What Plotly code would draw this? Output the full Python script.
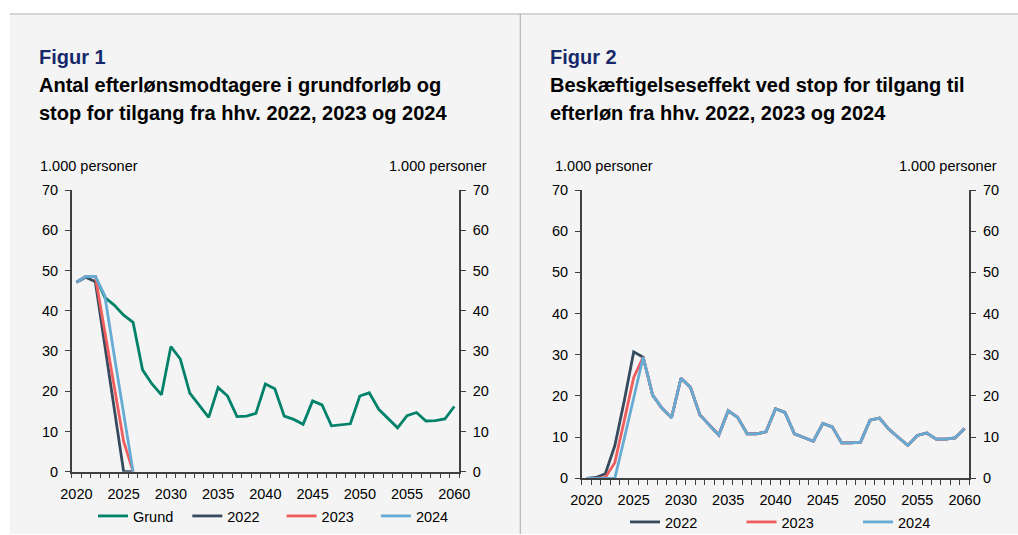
import plotly.graph_objects as go

# body margin is removed in post_script, so the figure fills the page
OFF = 0
W, H = 1018 - OFF, 535 - OFF

years = list(range(2020, 2061))
tick_years = [2020, 2025, 2030, 2035, 2040, 2045, 2050, 2055, 2060]
y_ticks = [0, 10, 20, 30, 40, 50, 60, 70]

# Figur 1: antal efterlønsmodtagere (1.000 personer)
grund = [47.1, 48.5, 48.5, 43.3, 41.4, 38.9, 37.1, 25.3, 21.8, 19.1,
         31.1, 28.0, 19.5, 16.6, 13.5, 20.9, 18.8, 13.7, 13.8, 14.5,
         21.8, 20.6, 13.8, 13.0, 11.8, 17.6, 16.6, 11.4, 11.6, 11.9,
         18.8, 19.6, 15.5, 13.1, 10.9, 13.9, 14.7, 12.6, 12.7, 13.1,
         16.2]
stop_years = [2020, 2021, 2022, 2023, 2024, 2025, 2026]
stop2022 = [47.1, 48.3, 47.2, 31.5, 15.5, 0.0, 0.0]
stop2023 = [47.1, 48.5, 48.5, 34.8, 21.1, 7.5, 0.0]
stop2024 = [47.1, 48.5, 48.5, 43.8, 28.9, 14.5, 0.0]

# Figur 2: beskæftigelseseffekt (1.000 personer)
eff2022 = [0.0, 0.2, 1.1, 7.9, 18.8, 30.7, 29.4, 20.2, 17.0, 14.7,
           24.3, 22.1, 15.4, 12.9, 10.5, 16.4, 14.8, 10.8, 10.8, 11.3,
           16.9, 16.0, 10.8, 9.9, 9.0, 13.3, 12.5, 8.6, 8.6, 8.8,
           14.1, 14.6, 11.9, 9.9, 8.0, 10.4, 11.0, 9.5, 9.5, 9.8,
           12.1]
eff2023 = [0.0, 0.0, 0.2, 3.8, 14.0, 24.5, 29.4, 20.2, 17.0, 14.7,
           24.3, 22.1, 15.4, 12.9, 10.5, 16.4, 14.8, 10.8, 10.8, 11.3,
           16.9, 16.0, 10.8, 9.9, 9.0, 13.3, 12.5, 8.6, 8.6, 8.8,
           14.1, 14.6, 11.9, 9.9, 8.0, 10.4, 11.0, 9.5, 9.5, 9.8,
           12.1]
eff2024 = [0.0, 0.0, 0.0, 0.0, 9.6, 19.2, 29.4, 20.2, 17.0, 14.7,
           24.3, 22.1, 15.4, 12.9, 10.5, 16.4, 14.8, 10.8, 10.8, 11.3,
           16.9, 16.0, 10.8, 9.9, 9.0, 13.3, 12.5, 8.6, 8.6, 8.8,
           14.1, 14.6, 11.9, 9.9, 8.0, 10.4, 11.0, 9.5, 9.5, 9.8,
           12.1]

C_GRUND = "#00826a"
C_2022 = "#364a5e"
C_2023 = "#f05d5e"
C_2024 = "#66abd4"
NAVY = "#17296b"
FONT = "Liberation Sans, Arial, sans-serif"
AX = "#3f3f3f"
LW = 2.8
SMALL = 14.5
TITLE = 20


def fx(px):
    return (px - OFF) / W


def fy(py):
    return 1 - (py - OFF) / H


fig = go.Figure()

# ---- Figur 1 traces
fig.add_trace(go.Scatter(x=years, y=grund, name="Grund", mode="lines",
                         line=dict(color=C_GRUND, width=LW), xaxis="x", yaxis="y",
                         legend="legend"))
fig.add_trace(go.Scatter(x=stop_years, y=stop2022, name="2022", mode="lines",
                         line=dict(color=C_2022, width=LW), xaxis="x", yaxis="y",
                         legend="legend"))
fig.add_trace(go.Scatter(x=stop_years, y=stop2023, name="2023", mode="lines",
                         line=dict(color=C_2023, width=LW), xaxis="x", yaxis="y",
                         legend="legend"))
fig.add_trace(go.Scatter(x=stop_years, y=stop2024, name="2024", mode="lines",
                         line=dict(color=C_2024, width=LW), xaxis="x", yaxis="y",
                         legend="legend"))
# right axis holder (invisible)
fig.add_trace(go.Scatter(x=years, y=grund, mode="lines", line=dict(width=0),
                         opacity=0, showlegend=False, hoverinfo="skip",
                         xaxis="x", yaxis="y2"))

# ---- Figur 2 traces
fig.add_trace(go.Scatter(x=years, y=eff2022, name="2022", mode="lines",
                         line=dict(color=C_2022, width=LW), xaxis="x2", yaxis="y3",
                         legend="legend2"))
fig.add_trace(go.Scatter(x=years, y=eff2023, name="2023", mode="lines",
                         line=dict(color=C_2023, width=LW), xaxis="x2", yaxis="y3",
                         legend="legend2"))
fig.add_trace(go.Scatter(x=years, y=eff2024, name="2024", mode="lines",
                         line=dict(color=C_2024, width=LW), xaxis="x2", yaxis="y3",
                         legend="legend2"))
fig.add_trace(go.Scatter(x=years, y=eff2024, mode="lines", line=dict(width=0),
                         opacity=0, showlegend=False, hoverinfo="skip",
                         xaxis="x2", yaxis="y4"))

tickfont = dict(family=FONT, size=SMALL, color="#000000")

xcommon = dict(range=[2019.5, 2060.5], tickvals=tick_years, ticks="outside",
               ticklen=8, tickcolor="rgba(0,0,0,0)", showline=True,
               linecolor=AX, linewidth=1.5, showgrid=False, zeroline=False,
               tickfont=tickfont,
               minor=dict(tickvals=[2019.5 + k for k in range(42)],
                          ticks="outside", ticklen=5, tickcolor=AX,
                          tickwidth=1.2, showgrid=False))
ycommon = dict(range=[0, 70], tickvals=y_ticks, ticks="outside", ticklen=5,
               tickcolor=AX, tickwidth=1.2, showline=True, linecolor=AX,
               linewidth=1.5, showgrid=False, zeroline=False,
               tickfont=tickfont, ticklabelstandoff=4)

f1x0, f1x1 = 71.7, 459.0
f1y0, f1y1 = 471.7, 190.0
f2x0, f2x1 = 581.7, 969.3
f2y0, f2y1 = 478.3, 190.0

fig.update_layout(
    width=W, height=H,
    margin=dict(l=0, r=0, t=0, b=0, pad=0, autoexpand=False),
    paper_bgcolor="#ffffff",
    plot_bgcolor="rgba(0,0,0,0)",
    font=dict(family=FONT, size=SMALL, color="#000000"),
    xaxis=dict(domain=[fx(f1x0), fx(f1x1)], anchor="y", **xcommon),
    yaxis=dict(domain=[fy(f1y0), fy(f1y1)], anchor="x", side="left", **ycommon),
    yaxis2=dict(domain=[fy(f1y0), fy(f1y1)], anchor="x", overlaying="y",
                side="right", **ycommon),
    xaxis2=dict(domain=[fx(f2x0), fx(f2x1)], anchor="y3", **xcommon),
    yaxis3=dict(domain=[fy(f2y0), fy(f2y1)], anchor="x2", side="left", **ycommon),
    yaxis4=dict(domain=[fy(f2y0), fy(f2y1)], anchor="x2", overlaying="y3",
                side="right", **ycommon),
    legend=dict(orientation="h", x=fx(93), y=fy(516), xanchor="left",
                yanchor="middle", entrywidth=49.3, entrywidthmode="pixels",
                bgcolor="rgba(0,0,0,0)", font=dict(family=FONT, size=SMALL),
                itemwidth=30, tracegroupgap=0),
    legend2=dict(orientation="h", x=fx(625), y=fy(522), xanchor="left",
                 yanchor="middle", entrywidth=71.5, entrywidthmode="pixels",
                 bgcolor="rgba(0,0,0,0)", font=dict(family=FONT, size=SMALL),
                 itemwidth=30),
    showlegend=True,
)

shapes = [
    dict(type="rect", xref="paper", yref="paper", x0=fx(10), x1=1, y0=fy(534),
         y1=fy(15), fillcolor="#f4f4f4", line=dict(width=0), layer="below"),
    dict(type="line", xref="paper", yref="paper", x0=fx(10), x1=1, y0=fy(14),
         y1=fy(14), line=dict(color="#aaaaaa", width=1.2), layer="below"),
    dict(type="line", xref="paper", yref="paper", x0=fx(520.3), x1=fx(520.3),
         y0=fy(534), y1=fy(14), line=dict(color="#b4b4b4", width=1.2),
         layer="below"),
]
fig.update_layout(shapes=shapes)

ann = []


def text(x, y, s, size=SMALL, color="#000000", bold=False, xanchor="left"):
    ann.append(dict(xref="paper", yref="paper", x=fx(x), y=fy(y), text=s,
                    showarrow=False, xanchor=xanchor, yanchor="middle",
                    font=dict(family=FONT, size=size, color=color,
                              weight="bold" if bold else "normal")))


text(37, 57, "Figur 1", TITLE, NAVY, True)
text(37, 85, "Antal efterlønsmodtagere i grundforløb og", TITLE, "#000000", True)
text(37, 113, "stop for tilgang fra hhv. 2022, 2023 og 2024", TITLE, "#000000", True)
text(38, 166, "1.000 personer")
text(489, 166, "1.000 personer", xanchor="right")

text(548, 57, "Figur 2", TITLE, NAVY, True)
text(548, 85, "Beskæftigelseseffekt ved stop for tilgang til", TITLE, "#000000", True)
text(548, 113, "efterløn fra hhv. 2022, 2023 og 2024", TITLE, "#000000", True)
text(553, 166, "1.000 personer")
text(999, 166, "1.000 personer", xanchor="right")

fig.update_layout(annotations=ann)

fig.write_html(
    "out.html",
    config={"displayModeBar": False},
    post_script="document.documentElement.style.margin='0';"
                "document.body.style.margin='0';"
                "document.documentElement.style.overflow='hidden';"
                "document.body.style.overflow='hidden';",
)
